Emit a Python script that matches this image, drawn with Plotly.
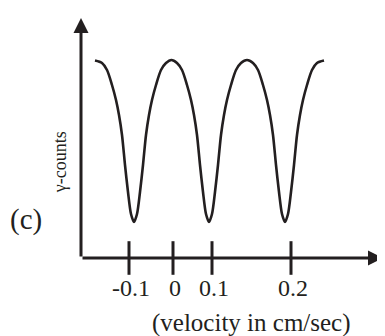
import plotly.graph_objects as go

# Schematic velocity axis (cm/sec) and gamma counts (arbitrary units)
velocity = [-0.195, -0.1775, -0.165, -0.1525, -0.1425, -0.135, -0.1275, -0.12, -0.1125, -0.105,
            -0.0975, -0.09, -0.0825, -0.075, -0.0675, -0.06, -0.0525, -0.0425, -0.03, -0.0175,
            -0.004, 0.01, 0.0225, 0.035, 0.045, 0.0525, 0.06, 0.0675, 0.075, 0.0825,
            0.09, 0.0975, 0.105, 0.1125, 0.12, 0.1275, 0.135, 0.145, 0.1575, 0.17,
            0.185, 0.2, 0.2125, 0.225, 0.235, 0.2425, 0.25, 0.2575, 0.265, 0.2725,
            0.28, 0.2875, 0.295, 0.3025, 0.31, 0.3175, 0.325, 0.335, 0.3475, 0.36, 0.3775]
counts = [98.75, 97.5, 94, 86.5, 79, 71.5, 61.5, 46.5, 33, 22,
          18, 22, 33, 46.5, 61.5, 71.5, 79, 86.5, 94, 97.5,
          99, 97.5, 94, 86.5, 79, 71.5, 61.5, 46.5, 33, 22,
          18, 22, 33, 46.5, 61.5, 71.5, 79, 86.5, 94, 97.5,
          99, 97.5, 94, 86.5, 79, 71.5, 61.5, 46.5, 33, 22,
          18, 22, 33, 46.5, 61.5, 71.5, 79, 86.5, 94, 97.5, 98.75]

tick_positions = [-0.11, 0.0, 0.0975, 0.295]
tick_labels = ["-0.1", "0", "0.1", "0.2"]

x_range = [-0.23, 0.53]
y_range = [0, 122]

INK = "#231f20"
FONT = "Liberation Serif"

fig = go.Figure()

fig.add_trace(go.Scatter(
    x=velocity, y=counts, mode="lines",
    line=dict(color=INK, width=2.6, shape="spline", smoothing=0.8),
    hoverinfo="skip", showlegend=False,
))

# tick marks crossing the x axis
fig.add_trace(go.Scatter(
    x=tick_positions, y=[0] * len(tick_positions), mode="markers",
    marker=dict(symbol="line-ns", size=24, line=dict(color=INK, width=3)),
    cliponaxis=False, hoverinfo="skip", showlegend=False,
))

annotations = []
# axes with arrowheads
annotations.append(dict(x=0.525, y=0, ax=x_range[0], ay=0, xref="x", yref="y",
                        axref="x", ayref="y", text="", showarrow=True,
                        arrowhead=2, arrowwidth=3, arrowsize=1, arrowcolor=INK))
annotations.append(dict(x=x_range[0], y=120, ax=x_range[0], ay=0, xref="x", yref="y",
                        axref="x", ayref="y", text="", showarrow=True,
                        arrowhead=2, arrowwidth=3, arrowsize=1, arrowcolor=INK))

for tp, tl in zip(tick_positions, tick_labels):
    annotations.append(dict(x=tp, y=-0.121, xref="x", yref="paper", text=tl, showarrow=False,
                            xshift=2, font=dict(family=FONT, size=24, color=INK),
                            xanchor="center", yanchor="middle"))

annotations.append(dict(x=0.196, y=-0.265, xref="x", yref="paper", text="(velocity in cm/sec)",
                        showarrow=False, font=dict(family=FONT, size=25, color=INK),
                        xanchor="center", yanchor="middle"))
annotations.append(dict(x=-0.069, y=0.393, xref="paper", yref="paper", text="γ-counts",
                        showarrow=False, textangle=-90,
                        font=dict(family=FONT, size=18, color=INK),
                        xanchor="center", yanchor="middle"))
annotations.append(dict(x=-0.181, y=0.156, xref="paper", yref="paper", text="(c)",
                        showarrow=False, font=dict(family=FONT, size=29, color=INK),
                        xanchor="center", yanchor="middle"))

# page body has an 8px default margin, so the figure is 8px smaller on each side
fig.update_layout(
    width=377, height=328,
    margin=dict(l=73, r=0, t=6, b=78, pad=0),
    paper_bgcolor="white", plot_bgcolor="white",
    xaxis=dict(range=x_range, visible=False, fixedrange=True),
    yaxis=dict(range=y_range, visible=False, fixedrange=True),
    annotations=annotations,
    showlegend=False,
)

fig.write_html("out.html", config={"displayModeBar": False})
